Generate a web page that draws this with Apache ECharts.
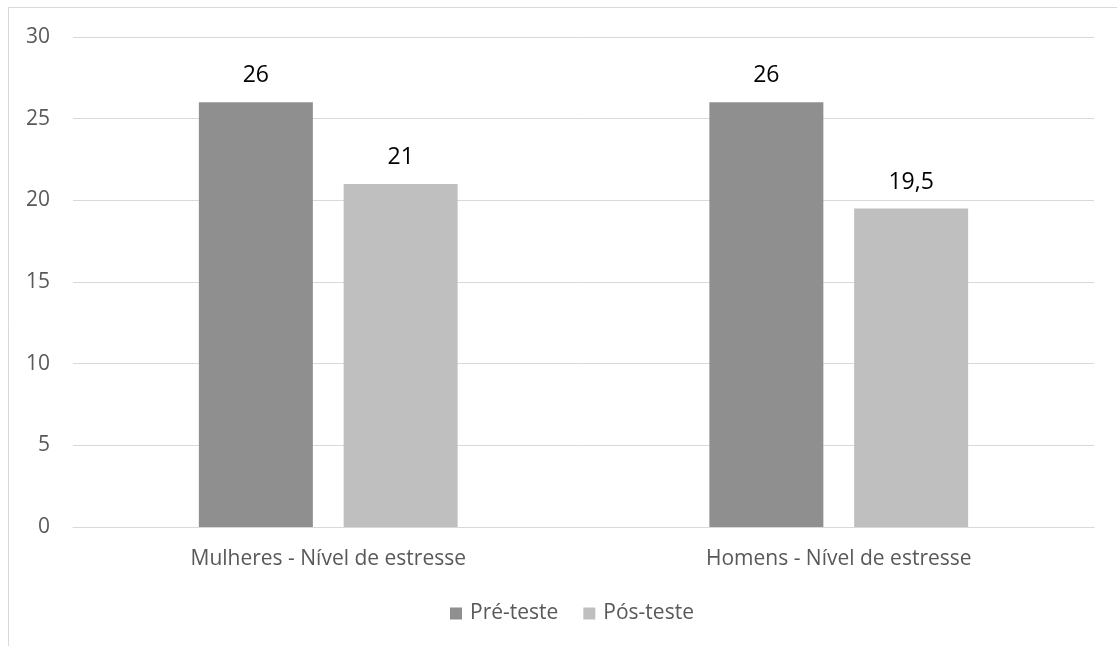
<!DOCTYPE html>
<html><head><meta charset="utf-8">
<script src="https://cdn.jsdelivr.net/npm/echarts@6/dist/echarts.min.js"></script>
<style>html,body{margin:0;padding:0;background:#fff}#c{width:1117px;height:646px}</style>
</head><body><div id="c"></div>
<script>
const categories = ['Mulheres - Nível de estresse', 'Homens - Nível de estresse'];
const seriesNames = ['Pré-teste', 'Pós-teste'];
const preTeste = [26, 26];
const posTeste = [21, 19.5];
const yTicks = [0, 5, 10, 15, 20, 25, 30];

const chart = echarts.init(document.getElementById('c'));
const fmt = p => String(p.value).replace('.', ',');
const font = '"Open Sans", sans-serif';
chart.setOption({
  animation: false,
  textStyle: { fontFamily: font },
  graphic: [{ type: 'rect', shape: { x: 8.5, y: 7.5, width: 1200, height: 800 }, style: { fill: 'none', stroke: '#d9d9d9', lineWidth: 1 }, silent: true }],
  grid: { left: 73, right: 23, top: 37, bottom: 119, containLabel: false },
  legend: {
    data: seriesNames, top: 598, left: 445, icon: 'rect', itemWidth: 12, itemHeight: 12, itemGap: 25,
    textStyle: { fontSize: 21, color: '#595959', fontFamily: font, padding: [0, 0, 0, 3] }
  },
  xAxis: {
    type: 'category', data: categories,
    axisLine: { lineStyle: { color: '#d9d9d9' } }, axisTick: { show: false },
    axisLabel: { fontSize: 21, color: '#595959', margin: 22, fontFamily: font }
  },
  yAxis: {
    type: 'value', min: yTicks[0], max: yTicks[yTicks.length - 1], interval: 5,
    axisLine: { show: false }, axisTick: { show: false },
    splitLine: { lineStyle: { color: '#d9d9d9' } },
    axisLabel: { fontSize: 21, color: '#595959', margin: 23, fontFamily: font }
  },
  series: [
    { name: seriesNames[0], type: 'bar', data: preTeste, barWidth: 114, barGap: '27%', itemStyle: { color: '#8f8f8f' },
      label: { show: true, position: 'top', distance: 15, fontSize: 23, color: '#000', formatter: fmt, fontFamily: font } },
    { name: seriesNames[1], type: 'bar', data: posTeste, barWidth: 114, itemStyle: { color: '#bfbfbf' },
      label: { show: true, position: 'top', distance: 15, fontSize: 23, color: '#000', formatter: fmt, fontFamily: font } }
  ]
});
</script></body></html>
